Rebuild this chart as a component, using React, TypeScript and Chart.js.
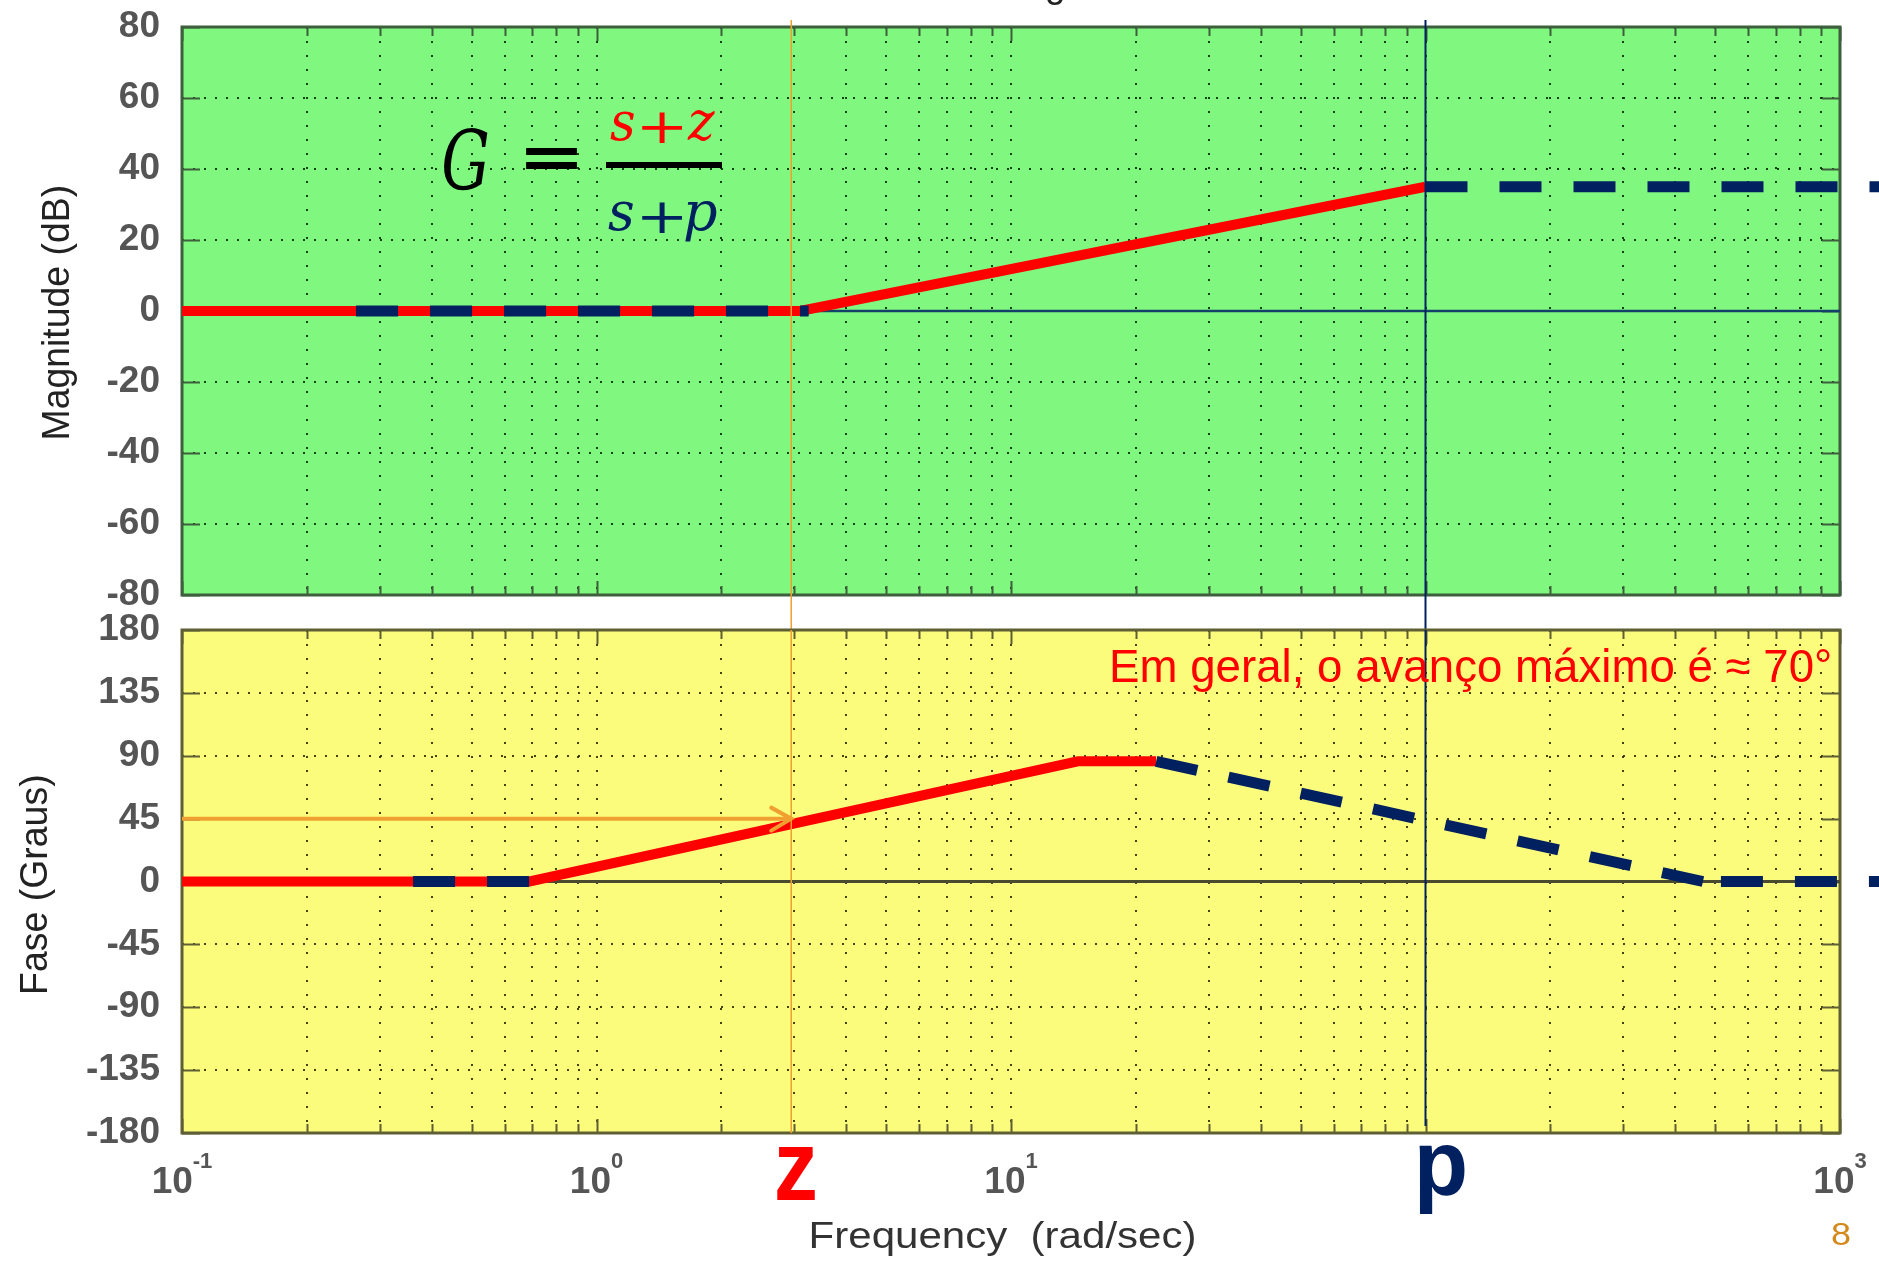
import { useEffect, useRef } from 'react';
import { Chart, registerables } from 'chart.js';

Chart.register(...registerables);

const W = 1879;
const H = 1263;

// Plot rectangles in page pixels
const PLOT_LEFT = 182;
const PLOT_RIGHT = 1840;
const MAG_TOP = 27;
const MAG_BOTTOM = 595;
const PHASE_TOP = 630;
const PHASE_BOTTOM = 1133;

// Break frequencies (rad/s)
const Z_FREQ = 2.95;
const P_FREQ = 100;

// Frequency axis: grid positions and labelled decades
const FREQ_GRID = [
  0.1, 0.2, 0.3, 0.4, 0.5, 0.6, 0.7, 0.8, 0.9,
  1, 2, 3, 4, 5, 6, 7, 8, 9,
  10, 20, 30, 40, 50, 60, 70, 80, 90,
  100, 200, 300, 400, 500, 600, 700, 800, 900,
  1000,
];
const FREQ_DECADES = [0.1, 1, 10, 1000];
const FREQ_EXPONENTS = ['-1', '0', '1', '3'];

const MAG_TICKS = [-80, -60, -40, -20, 0, 20, 40, 60, 80];
const PHASE_TICKS = [-180, -135, -90, -45, 0, 45, 90, 135, 180];

// Magnitude asymptotes (dB)
const MAG_RED_FREQ = [0.1, 3.1, 100];
const MAG_RED_DB = [0, 0, 35];
const MAG_LOW_DASH_FREQ = [0.263, 3.25];
const MAG_LOW_DASH_DB = [0, 0];
const MAG_HIGH_DASH_FREQ = [100, 2000];
const MAG_HIGH_DASH_DB = [35, 35];
const MAG_ZERO_FREQ = [0.1, 1000];
const MAG_ZERO_DB = [0, 0];
const MAG_MARKER_DB = [82, -90];

// Phase asymptotes (degrees)
const PHASE_RED_FREQ = [0.1, 0.69, 14.5, 22.4];
const PHASE_RED_DEG = [0, 0, 86, 86];
const PHASE_LOW_DASH_FREQ = [0.361, 0.69];
const PHASE_LOW_DASH_DEG = [0, 0];
const PHASE_FALL_FREQ = [22.4, 467];
const PHASE_FALL_DEG = [86, 0];
const PHASE_FLAT_FREQ = [467, 2000];
const PHASE_FLAT_DEG = [0, 0];
const PHASE_ARROW_FREQ = [0.1, Z_FREQ];
const PHASE_ARROW_DEG = [45, 45];
const PHASE_ZERO_FREQ = [0.1, 1000];
const PHASE_ZERO_DEG = [0, 0];
const PHASE_Z_MARKER_DEG = [180, -180];
const PHASE_P_MARKER_DEG = [180, -175];

const RED = '#FF0000';
const NAVY = '#002060';
const ORANGE = '#F0A030';
const GREEN_BG = '#80F880';
const YELLOW_BG = '#FCFC7C';

const SANS = '"Liberation Sans", Arial, Helvetica, sans-serif';
const NARROW = '"Liberation Sans Narrow", "Liberation Sans", Arial, sans-serif';
const MATH = '"DejaVu Serif", "Liberation Serif", serif';

const DASH = [42, 32];

const pts = (xs: number[], ys: number[]) => xs.map((x, i) => ({ x, y: ys[i] }));

const line = (xs: number[], ys: number[], color: string, width: number,
  dash: number[] = [], dashOffset = 0) => ({
  data: pts(xs, ys),
  borderColor: color,
  borderWidth: width,
  borderDash: dash,
  borderDashOffset: dashOffset,
  borderCapStyle: 'butt',
  borderJoinStyle: 'miter',
  pointRadius: 0,
  fill: false,
  tension: 0,
  clip: false,
});

// Draw text so that its ink spans exactly [left, left + width]
function fitText(ctx: CanvasRenderingContext2D, text: string, left: number, baseline: number,
  width: number, font: string, color: string) {
  ctx.save();
  ctx.font = font;
  ctx.fillStyle = color;
  ctx.textAlign = 'left';
  ctx.textBaseline = 'alphabetic';
  const m = ctx.measureText(text);
  const ink = (m.actualBoundingBoxLeft + m.actualBoundingBoxRight) || m.width || 1;
  ctx.translate(left, baseline);
  ctx.scale(width / ink, 1);
  ctx.fillText(text, m.actualBoundingBoxLeft, 0);
  ctx.restore();
}

// Vertical text read bottom-to-top, centred on cy, baseline at screen x = baseX
function fitTextUp(ctx: CanvasRenderingContext2D, text: string, baseX: number, cy: number,
  length: number, font: string, color: string) {
  ctx.save();
  ctx.translate(baseX, cy);
  ctx.rotate(-Math.PI / 2);
  fitText(ctx, text, -length / 2, 0, length, font, color);
  ctx.restore();
}

function scales(yMin: number, yMax: number, yTicks: number[], gridColor: string) {
  return {
    x: {
      type: 'logarithmic',
      min: 0.1,
      max: 1000,
      afterBuildTicks: (s: any) => { s.ticks = FREQ_GRID.map((v) => ({ value: v })); },
      afterFit: (s: any) => { s.height = 0; s.paddingLeft = 0; s.paddingRight = 0; },
      ticks: { display: false, autoSkip: false },
      grid: { drawTicks: false, color: gridColor, lineWidth: 2 },
      border: { display: false, dash: [2, 12] },
    },
    y: {
      type: 'linear',
      min: yMin,
      max: yMax,
      afterBuildTicks: (s: any) => { s.ticks = yTicks.map((v) => ({ value: v })); },
      afterFit: (s: any) => { s.width = PLOT_LEFT; s.paddingTop = 0; s.paddingBottom = 0; },
      ticks: {
        autoSkip: false,
        padding: 22,
        color: '#555555',
        font: { family: SANS, size: 37, weight: 'bold' },
        callback: (v: any) => String(v),
      },
      grid: { drawTicks: false, color: gridColor, lineWidth: 2 },
      border: { display: false, dash: [2, 9] },
    },
  };
}

// Coloured plot background, frame and inward tick marks
function framePlugin(bg: string, frame: string) {
  return {
    id: 'plotFrame',
    beforeDraw(chart: any) {
      const { ctx, chartArea: a } = chart;
      ctx.save();
      ctx.fillStyle = bg;
      ctx.fillRect(a.left, a.top, a.right - a.left, a.bottom - a.top);
      ctx.restore();
    },
    beforeDatasetsDraw(chart: any) {
      const { ctx, chartArea: a, scales: s } = chart;
      ctx.save();
      ctx.strokeStyle = frame;
      ctx.lineWidth = 2;
      ctx.beginPath();
      FREQ_GRID.forEach((v) => {
        const px = Math.round(s.x.getPixelForValue(v)) + 0.5;
        const major = Math.abs(Math.log10(v) - Math.round(Math.log10(v))) < 1e-9;
        const len = major ? 14 : 9;
        ctx.moveTo(px, a.top);
        ctx.lineTo(px, a.top + len);
        ctx.moveTo(px, a.bottom);
        ctx.lineTo(px, a.bottom - len);
      });
      s.y.ticks.forEach((t: any) => {
        const py = Math.round(s.y.getPixelForValue(t.value)) + 0.5;
        ctx.moveTo(a.left, py);
        ctx.lineTo(a.left + 18, py);
        ctx.moveTo(a.right, py);
        ctx.lineTo(a.right - 18, py);
      });
      ctx.stroke();
      ctx.lineWidth = 3;
      ctx.strokeRect(a.left, a.top, a.right - a.left, a.bottom - a.top);
      ctx.restore();
    },
  };
}

const magnitudeText = {
  id: 'magnitudeText',
  afterDraw(chart: any) {
    const { ctx, chartArea: a } = chart;
    // figure title sitting above the page edge
    ctx.save();
    ctx.font = `37px ${SANS}`;
    ctx.fillStyle = '#222222';
    ctx.textAlign = 'center';
    ctx.textBaseline = 'alphabetic';
    ctx.fillText('Bode Diagram', (a.left + a.right) / 2, -3);
    ctx.restore();

    fitTextUp(ctx, 'Magnitude (dB)', 69, 312, 251, `38px ${SANS}`, '#222222');

    // G = (s+z)/(s+p)
    fitText(ctx, 'G', 442, 190, 46, `italic 82px ${MATH}`, '#000000');
    fitText(ctx, '=', 525, 178, 52, `bold 64px ${MATH}`, '#000000');
    ctx.save();
    ctx.fillStyle = '#000000';
    ctx.fillRect(606, 162, 116, 6);
    ctx.restore();
    fitText(ctx, 's', 610, 140, 24, `italic 54px ${MATH}`, RED);
    fitText(ctx, '+', 642, 143, 41, `48px ${MATH}`, RED);
    fitText(ctx, 'z', 687, 140, 28, `italic 54px ${MATH}`, RED);
    fitText(ctx, 's', 608, 230, 25, `italic 54px ${MATH}`, NAVY);
    fitText(ctx, '+', 642, 233, 41, `48px ${MATH}`, NAVY);
    fitText(ctx, 'p', 685, 230, 32, `italic 54px ${MATH}`, NAVY);
  },
};

const phaseText = {
  id: 'phaseText',
  afterDatasetsDraw(chart: any) {
    const { ctx, scales: s } = chart;
    // arrow head where the 45° guide meets the zero frequency
    const px = s.x.getPixelForValue(Z_FREQ);
    const py = s.y.getPixelForValue(PHASE_ARROW_DEG[1]);
    ctx.save();
    ctx.strokeStyle = ORANGE;
    ctx.lineWidth = 4;
    ctx.lineCap = 'round';
    ctx.beginPath();
    ctx.moveTo(px - 20, py - 11);
    ctx.lineTo(px, py);
    ctx.lineTo(px - 20, py + 12);
    ctx.stroke();
    ctx.restore();
  },
  afterDraw(chart: any) {
    const { ctx, chartArea: a, scales: s } = chart;
    fitTextUp(ctx, 'Fase (Graus)', 47, 884, 216, `38px ${SANS}`, '#222222');

    // decade labels with superscript exponents
    FREQ_DECADES.forEach((v, i) => {
      const px = s.x.getPixelForValue(v);
      ctx.save();
      ctx.fillStyle = '#555555';
      ctx.textAlign = 'left';
      ctx.textBaseline = 'alphabetic';
      ctx.font = `bold 37px ${SANS}`;
      const wMain = ctx.measureText('10').width;
      ctx.font = `bold 22px ${SANS}`;
      const wSup = ctx.measureText(FREQ_EXPONENTS[i]).width;
      const left = px - (wMain + wSup) / 2;
      ctx.font = `bold 37px ${SANS}`;
      ctx.fillText('10', left, a.bottom + 60);
      ctx.font = `bold 22px ${SANS}`;
      ctx.fillText(FREQ_EXPONENTS[i], left + wMain, a.bottom + 35);
      ctx.restore();
    });

    fitText(ctx, 'Frequency  (rad/sec)', 812, 1248, 383, `37px ${SANS}`, '#333333');
    fitText(ctx, 'Em geral, o avanço máximo é ≈ 70°', 1112, 682, 718, `46px ${NARROW}`, RED);

    const zx = s.x.getPixelForValue(Z_FREQ);
    const pxp = s.x.getPixelForValue(P_FREQ);
    fitText(ctx, 'z', zx - 14, 1200, 38, `bold 100px ${SANS}`, RED);
    fitText(ctx, 'p', pxp - 6, 1195, 45, `bold 93px ${SANS}`, NAVY);
    fitText(ctx, '8', 1832, 1245, 18, `32px ${SANS}`, '#D4891C');
  },
};

function magnitudeConfig(): any {
  return {
    type: 'line',
    data: {
      datasets: [
        line([Z_FREQ, Z_FREQ], MAG_MARKER_DB, ORANGE, 1.5),
        line([P_FREQ, P_FREQ], MAG_MARKER_DB, NAVY, 2),
        line(MAG_LOW_DASH_FREQ, MAG_LOW_DASH_DB, NAVY, 11, DASH),
        line(MAG_HIGH_DASH_FREQ, MAG_HIGH_DASH_DB, NAVY, 11, DASH),
        line(MAG_RED_FREQ, MAG_RED_DB, RED, 10),
        line(MAG_ZERO_FREQ, MAG_ZERO_DB, '#15406A', 2.5),
      ],
    },
    options: {
      animation: false,
      responsive: false,
      maintainAspectRatio: false,
      events: [],
      layout: { padding: { top: MAG_TOP, bottom: H - MAG_BOTTOM, left: 0, right: W - PLOT_RIGHT } },
      plugins: { legend: { display: false }, tooltip: { enabled: false } },
      scales: scales(-80, 80, MAG_TICKS, 'rgba(0,35,0,0.85)'),
    },
    plugins: [framePlugin(GREEN_BG, '#3D5F3D'), magnitudeText],
  };
}

function phaseConfig(): any {
  return {
    type: 'line',
    data: {
      datasets: [
        line([Z_FREQ, Z_FREQ], PHASE_Z_MARKER_DEG, ORANGE, 1.5),
        line([P_FREQ, P_FREQ], PHASE_P_MARKER_DEG, NAVY, 2),
        line(PHASE_ARROW_FREQ, PHASE_ARROW_DEG, ORANGE, 4),
        line(PHASE_LOW_DASH_FREQ, PHASE_LOW_DASH_DEG, NAVY, 11, DASH),
        line(PHASE_FALL_FREQ, PHASE_FALL_DEG, NAVY, 11, DASH),
        line(PHASE_FLAT_FREQ, PHASE_FLAT_DEG, NAVY, 11, DASH, 56),
        line(PHASE_RED_FREQ, PHASE_RED_DEG, RED, 10),
        line(PHASE_ZERO_FREQ, PHASE_ZERO_DEG, '#4A4A2E', 3),
      ],
    },
    options: {
      animation: false,
      responsive: false,
      maintainAspectRatio: false,
      events: [],
      layout: { padding: { top: PHASE_TOP, bottom: H - PHASE_BOTTOM, left: 0, right: W - PLOT_RIGHT } },
      plugins: { legend: { display: false }, tooltip: { enabled: false } },
      scales: scales(-180, 180, PHASE_TICKS, 'rgba(35,35,0,0.85)'),
    },
    plugins: [framePlugin(YELLOW_BG, '#5F5F35'), phaseText],
  };
}

export default function App() {
  const magRef = useRef<HTMLCanvasElement>(null);
  const phaseRef = useRef<HTMLCanvasElement>(null);

  useEffect(() => {
    const mag = new Chart(magRef.current as HTMLCanvasElement, magnitudeConfig());
    const phase = new Chart(phaseRef.current as HTMLCanvasElement, phaseConfig());
    return () => {
      mag.destroy();
      phase.destroy();
    };
  }, []);

  const canvasStyle: any = { position: 'absolute', left: 0, top: 0, width: W, height: H };
  return (
    <div style={{ position: 'fixed', left: 0, top: 0, width: W, height: H, background: '#ffffff', overflow: 'hidden' }}>
      <canvas ref={magRef} width={W} height={H} style={canvasStyle} />
      <canvas ref={phaseRef} width={W} height={H} style={canvasStyle} />
    </div>
  );
}
